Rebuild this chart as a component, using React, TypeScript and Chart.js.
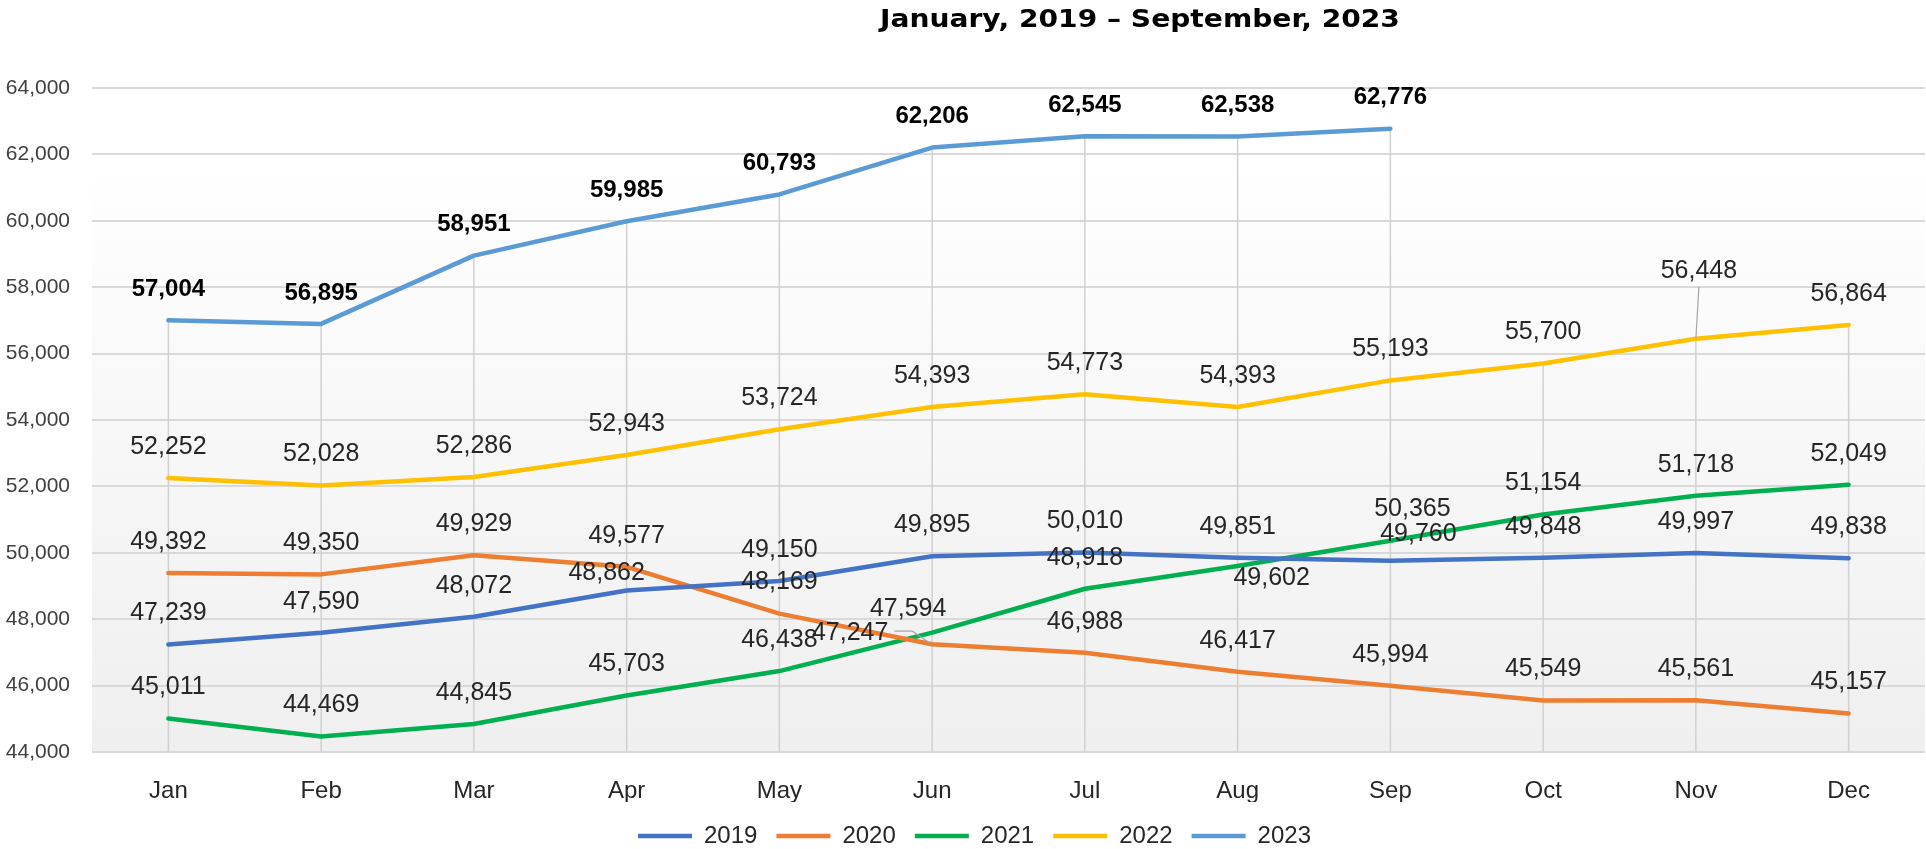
import React, { useEffect, useRef } from 'react';
import { Chart, registerables } from 'chart.js';

Chart.register(...registerables);

const months = ['Jan', 'Feb', 'Mar', 'Apr', 'May', 'Jun', 'Jul', 'Aug', 'Sep', 'Oct', 'Nov', 'Dec'];
const years = ['2019', '2020', '2021', '2022', '2023'];
const values2019 = [47239, 47590, 48072, 48862, 49150, 49895, 50010, 49851, 49760, 49848, 49997, 49838];
const values2020 = [49392, 49350, 49929, 49577, 48169, 47247, 46988, 46417, 45994, 45549, 45561, 45157];
const values2021 = [45011, 44469, 44845, 45703, 46438, 47594, 48918, 49602, 50365, 51154, 51718, 52049];
const values2022 = [52252, 52028, 52286, 52943, 53724, 54393, 54773, 54393, 55193, 55700, 56448, 56864];
const values2023 = [57004, 56895, 58951, 59985, 60793, 62206, 62545, 62538, 62776, null, null, null];
const yMin = 44000;
const yMax = 64000;
const yStep = 2000;
const chartTitle = 'January, 2019 \u2013 September, 2023';

const seriesValues = [values2019, values2020, values2021, values2022, values2023];
const seriesColors = ['#4472C4', '#ED7D31', '#00B050', '#FFC000', '#5B9BD5'];
const boldLabelSeries = [false, false, false, false, true];

// label placement tweaks (pixel offsets from the default "above" spot)
type Tweak = { dx: number; dy: number; leader?: 'right' | 'below' };
const labelTweaks: Record<string, Tweak> = {
  '0-3': { dx: -20, dy: 14 },
  '0-8': { dx: 28, dy: 4 },
  '1-5': { dx: -82, dy: 20, leader: 'right' },
  '2-5': { dx: -24, dy: 7 },
  '2-7': { dx: 34, dy: 43 },
  '2-8': { dx: 22, dy: -1 },
  '3-10': { dx: 3, dy: -37, leader: 'below' },
};

const FONT = '"Liberation Sans", Arial, sans-serif';
const TEXT_COLOR = '#262626';

const bgPlugin = {
  id: 'plotBg',
  beforeDraw(chart: any) {
    const { ctx, chartArea: a } = chart;
    const g = ctx.createLinearGradient(0, a.top, 0, a.bottom);
    g.addColorStop(0, '#ffffff');
    g.addColorStop(0.1, '#ffffff');
    g.addColorStop(1, '#efefef');
    ctx.save();
    ctx.fillStyle = g;
    ctx.fillRect(a.left, a.top, a.right - a.left, a.bottom - a.top);
    ctx.restore();
  },
};

const dropLinesPlugin = {
  id: 'dropLines',
  beforeDatasetsDraw(chart: any) {
    const { ctx, chartArea: a } = chart;
    const n = chart.data.labels.length;
    ctx.save();
    ctx.strokeStyle = '#d0d0d0';
    ctx.lineWidth = 1.5;
    for (let i = 0; i < n; i++) {
      let top = Infinity;
      let x: number | null = null;
      chart.data.datasets.forEach((ds: any, di: number) => {
        const el = chart.getDatasetMeta(di).data[i];
        if (ds.data[i] != null && el && !isNaN(el.y) && el.y < top) {
          top = el.y;
          x = el.x;
        }
      });
      if (x != null) {
        ctx.beginPath();
        ctx.moveTo(x, top);
        ctx.lineTo(x, a.bottom);
        ctx.stroke();
      }
    }
    ctx.restore();
  },
};

const labelsPlugin = {
  id: 'valueLabels',
  afterDatasetsDraw(chart: any) {
    const { ctx } = chart;
    ctx.save();
    ctx.textAlign = 'center';
    ctx.textBaseline = 'middle';
    chart.data.datasets.forEach((ds: any, di: number) => {
      const meta = chart.getDatasetMeta(di);
      meta.data.forEach((el: any, i: number) => {
        const v = ds.data[i];
        if (v == null) return;
        const tw = labelTweaks[`${di}-${i}`] || { dx: 0, dy: 0 };
        const lx = el.x + tw.dx;
        const ly = el.y - 31 + tw.dy;
        const text = v.toLocaleString('en-US');
        ctx.font = boldLabelSeries[di] ? `bold 24px ${FONT}` : `25px ${FONT}`;
        ctx.fillStyle = boldLabelSeries[di] ? '#000000' : TEXT_COLOR;
        const w = ctx.measureText(text).width;
        if (tw.leader) {
          ctx.strokeStyle = '#a6a6a6';
          ctx.lineWidth = 1.2;
          ctx.beginPath();
          if (tw.leader === 'right') {
            ctx.moveTo(lx + w / 2 + 6, ly - 2);
            ctx.lineTo(lx + w / 2 + 24, ly - 2);
            ctx.lineTo(el.x - 2, el.y - 1);
          } else {
            ctx.moveTo(lx, ly + 16);
            ctx.lineTo(el.x, el.y);
          }
          ctx.stroke();
        }
        ctx.fillText(text, lx, ly);
      });
    });
    ctx.restore();
  },
};

const titlePlugin = {
  id: 'customTitle',
  afterDraw(chart: any) {
    const { ctx, chartArea: a } = chart;
    ctx.save();
    ctx.font = 'bold 25px "DejaVu Sans", sans-serif';
    ctx.fillStyle = '#000000';
    ctx.textAlign = 'center';
    ctx.textBaseline = 'middle';
    const w = ctx.measureText(chartTitle).width;
    const target = 520;
    const sx = target / w;
    const cx = a.left + 0.5717 * (a.right - a.left);
    ctx.translate(cx, 20);
    ctx.scale(sx, 1);
    ctx.fillText(chartTitle, 0, 0);
    ctx.restore();
  },
};

const legendShiftPlugin = {
  id: 'legendShift',
  afterLayout(chart: any) {
    const l = chart.legend;
    if (!l) return;
    l.top += 3;
    l.bottom += 3;
    l.left += 12;
    l.right += 12;
  },
};

export default function App() {
  const ref = useRef<HTMLCanvasElement>(null);

  useEffect(() => {
    if (!ref.current) return;
    const chart = new Chart(ref.current, {
      type: 'line',
      data: {
        labels: months,
        datasets: years.map((y, i) => ({
          label: y,
          data: seriesValues[i],
          borderColor: seriesColors[i],
          backgroundColor: seriesColors[i],
          borderWidth: 4.5,
          pointRadius: 0,
          pointHoverRadius: 0,
          tension: 0,
          borderCapStyle: 'round',
          borderJoinStyle: 'round',
          spanGaps: false,
        })),
      },
      options: {
        responsive: false,
        animation: false,
        layout: { padding: { top: 88, left: 0, right: 1, bottom: -6 } },
        plugins: {
          title: { display: false },
          tooltip: { enabled: false },
          legend: {
            position: 'bottom',
            labels: {
              usePointStyle: true,
              pointStyle: 'line',
              pointStyleWidth: 54,
              boxHeight: 24,
              padding: 19,
              color: TEXT_COLOR,
              font: { family: FONT, size: 24 },
            },
          },
        },
        scales: {
          x: {
            offset: true,
            grid: { display: false },
            border: { display: false },
            ticks: { color: TEXT_COLOR, font: { family: FONT, size: 24 }, padding: 17 },
            afterFit(scale: any) {
              scale.height = 50;
            },
          },
          y: {
            min: yMin,
            max: yMax,
            grid: { color: '#d9d9d9', lineWidth: 2, drawTicks: false },
            border: { display: false },
            ticks: {
              stepSize: yStep,
              padding: 22,
              color: '#404040',
              font: { family: FONT, size: 21 },
              callback: (v: any) => Number(v).toLocaleString('en-US'),
            },
            afterFit(scale: any) {
              scale.width = 92;
            },
          },
        },
      },
      plugins: [bgPlugin, dropLinesPlugin, labelsPlugin, titlePlugin, legendShiftPlugin],
    } as any);
    return () => chart.destroy();
  }, []);

  return (
    <div style={{ position: 'absolute', left: 0, top: 0, width: 1926, height: 849, background: '#ffffff' }}>
      <canvas ref={ref} width={1926} height={849} />
    </div>
  );
}
